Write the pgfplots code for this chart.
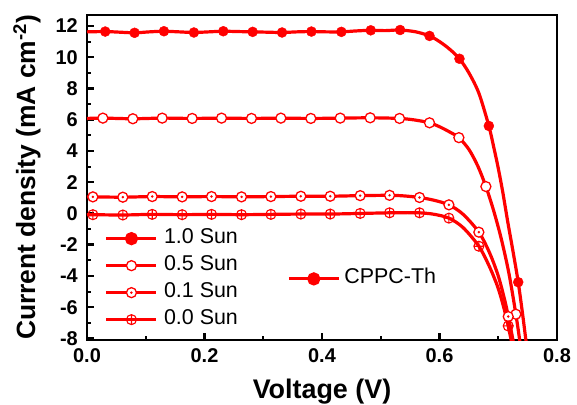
\documentclass[border=0pt]{standalone}
\usepackage{fontspec}
\setmainfont{Liberation Sans}
\usepackage{pgfplots}
\usepackage{pgfplotstable}
\pgfplotsset{compat=1.18}
\usetikzlibrary{plotmarks}
\pgfdeclareplotmark{odot}{%
  \pgfpathcircle{\pgfpointorigin}{\pgfplotmarksize}\pgfusepathqfillstroke
  \pgfpathcircle{\pgfpointorigin}{0.45bp}\pgfusepathqstroke}

\pgfplotstableread{
x y
0.000 11.62
0.031 11.64
0.056 11.60
0.081 11.56
0.106 11.62
0.131 11.66
0.157 11.62
0.182 11.58
0.207 11.62
0.232 11.66
0.257 11.64
0.282 11.62
0.307 11.60
0.332 11.58
0.357 11.62
0.382 11.64
0.408 11.62
0.433 11.62
0.458 11.68
0.483 11.72
0.508 11.70
0.533 11.74
0.560 11.62
0.583 11.36
0.600 11.00
0.617 10.52
0.634 9.90
0.650 9.00
0.667 7.70
0.684 5.60
0.692 4.30
0.700 2.90
0.708 1.30
0.716 -0.50
0.725 -2.40
0.734 -4.40
0.742 -6.60
0.750 -9.00
}\sunA
\pgfplotstableread{
x y
0.031 11.64
0.081 11.56
0.131 11.66
0.182 11.58
0.232 11.66
0.282 11.62
0.332 11.58
0.382 11.64
0.433 11.62
0.483 11.72
0.533 11.74
0.583 11.36
0.634 9.90
0.684 5.60
0.734 -4.40
}\sunAm
\pgfplotstableread{
x y
0.000 6.08
0.027 6.10
0.078 6.06
0.128 6.10
0.179 6.08
0.229 6.10
0.280 6.08
0.330 6.10
0.381 6.08
0.431 6.10
0.482 6.12
0.532 6.08
0.558 5.98
0.583 5.80
0.600 5.55
0.617 5.22
0.633 4.85
0.650 4.10
0.665 3.05
0.679 1.72
0.692 0.20
0.705 -1.60
0.718 -3.80
0.730 -6.45
0.738 -8.50
}\sunB
\pgfplotstableread{
x y
0.027 6.10
0.078 6.06
0.128 6.10
0.179 6.08
0.229 6.10
0.280 6.08
0.330 6.10
0.381 6.08
0.431 6.10
0.482 6.12
0.532 6.08
0.583 5.80
0.633 4.85
0.679 1.72
0.730 -6.45
}\sunBm
\pgfplotstableread{
x y
0.000 1.06
0.010 1.06
0.061 1.04
0.111 1.08
0.162 1.06
0.212 1.08
0.263 1.06
0.313 1.08
0.364 1.10
0.414 1.10
0.465 1.14
0.515 1.16
0.540 1.12
0.566 1.02
0.590 0.85
0.616 0.55
0.640 -0.05
0.667 -1.20
0.685 -2.50
0.700 -4.00
0.712 -5.70
0.722 -7.50
0.730 -9.10
}\sunC
\pgfplotstableread{
x y
0.010 1.06
0.061 1.04
0.111 1.08
0.162 1.06
0.212 1.08
0.263 1.06
0.313 1.08
0.364 1.10
0.414 1.10
0.465 1.14
0.515 1.16
0.566 1.02
0.616 0.55
0.667 -1.20
0.717 -6.60
}\sunCm
\pgfplotstableread{
x y
0.000 -0.08
0.010 -0.08
0.061 -0.10
0.111 -0.06
0.162 -0.08
0.212 -0.06
0.263 -0.08
0.313 -0.06
0.364 -0.04
0.414 -0.04
0.465 0.00
0.515 0.04
0.540 0.05
0.566 0.04
0.590 -0.05
0.616 -0.30
0.640 -0.90
0.667 -2.10
0.685 -3.40
0.700 -4.80
0.712 -6.40
0.722 -8.10
0.730 -9.60
}\sunD
\pgfplotstableread{
x y
0.010 -0.08
0.061 -0.10
0.111 -0.06
0.162 -0.08
0.212 -0.06
0.263 -0.08
0.313 -0.06
0.364 -0.04
0.414 -0.04
0.465 0.00
0.515 0.04
0.566 0.04
0.616 -0.30
0.667 -2.10
0.717 -7.20
}\sunDm

\pgfplotsset{
  mybase/.style={
    at={(0,0)}, anchor=south west,
    scale only axis, width=470bp, height=325bp,
    xmin=0, xmax=0.8, ymin=-8.1, ymax=12.7,
  },
  legend image code/.code={%
    \draw[mark repeat=2,mark phase=2,#1] plot coordinates {(0bp,0bp) (25bp,0bp) (50bp,0bp)};},
}

\begin{document}
\begin{tikzpicture}
\useasboundingbox (-87bp,-65bp) rectangle (490bp,340bp);
\begin{axis}[mybase,
  /pgf/number format/assume math mode=true,
  xtick={0,0.2,0.4,0.6,0.8}, minor xtick={0.1,0.3,0.5,0.7},
  ytick={-8,-6,...,12}, minor ytick={-7,-5,...,11},
  xtick pos=bottom, ytick pos=left, tick align=inside,
  major tick length=7bp, minor tick length=4bp,
  axis line style={line width=2.6bp},
  major tick style={line width=2.4bp, black},
  minor tick style={line width=2bp, black},
  xticklabel style={font=\bfseries\fontsize{20}{20}\selectfont, anchor=base, yshift=-22bp,
     /pgf/number format/.cd, fixed, fixed zerofill, precision=1},
  yticklabel style={font=\bfseries\fontsize{20}{20}\selectfont, anchor=east, inner sep=0pt, xshift=-9bp},
  xlabel={Voltage (V)},
  xlabel style={font=\bfseries\fontsize{27}{27}\selectfont, at={(axis description cs:0.5,0)}, anchor=base, yshift=-58bp},
  ylabel={Current density (mA cm\textsuperscript{-2})},
  ylabel style={font=\bfseries\fontsize{26.5}{26.5}\selectfont, at={(axis description cs:-0.128,0.5)}, anchor=center},
  legend style={at={(axis description cs:0.038,0.338)}, anchor=north west, draw=none, fill=none,
     inner sep=0pt, outer sep=0pt, row sep=10bp, column sep=6bp,
     nodes={inner sep=0pt, text height=13bp, text depth=4bp},
     font=\fontsize{21.5}{21.5}\selectfont},
  legend cell align=left,
]
\addplot[red, line width=3.2bp, smooth, forget plot] table {\sunA};
\addplot[red, line width=3.2bp, smooth, forget plot] table {\sunB};
\addplot[red, line width=3.2bp, smooth, forget plot] table {\sunC};
\addplot[red, line width=3.2bp, smooth, forget plot] table {\sunD};
\addplot[red, only marks, mark=*, mark size=5bp, forget plot] table {\sunAm};
\addplot[red, only marks, mark=*, mark size=5bp, mark options={fill=white, draw=red, line width=1.3bp}, forget plot] table {\sunBm};
\addplot[red, only marks, mark=odot, mark size=5bp, mark options={fill=white, draw=red, line width=1.3bp}, forget plot] table {\sunCm};
\addplot[red, only marks, mark=oplus, mark size=5bp, mark options={fill=white, draw=red, line width=1.1bp}, forget plot] table {\sunDm};
\addlegendimage{red, line width=3.2bp, mark=*, mark size=5bp}
\addlegendentry{1.0 Sun}
\addlegendimage{red, line width=3.2bp, mark=*, mark size=5bp, mark options={fill=white, draw=red, line width=1.3bp}}
\addlegendentry{0.5 Sun}
\addlegendimage{red, line width=3.2bp, mark=odot, mark size=5bp, mark options={fill=white, draw=red, line width=1.3bp}}
\addlegendentry{0.1 Sun}
\addlegendimage{red, line width=3.2bp, mark=oplus, mark size=5bp, mark options={fill=white, draw=red, line width=1.1bp}}
\addlegendentry{0.0 Sun}
\end{axis}
\begin{axis}[mybase, hide axis,
  legend style={at={(axis description cs:0.426,0.188)}, anchor=west, draw=none, fill=none,
     inner sep=0pt, outer sep=0pt, column sep=4bp,
     nodes={inner sep=0pt, text height=13bp, text depth=4bp},
     font=\fontsize{21.5}{21.5}\selectfont},
]
\addlegendimage{red, line width=3.2bp, mark=*, mark size=5bp}
\addlegendentry{CPPC-Th}
\end{axis}
\end{tikzpicture}
\end{document}
